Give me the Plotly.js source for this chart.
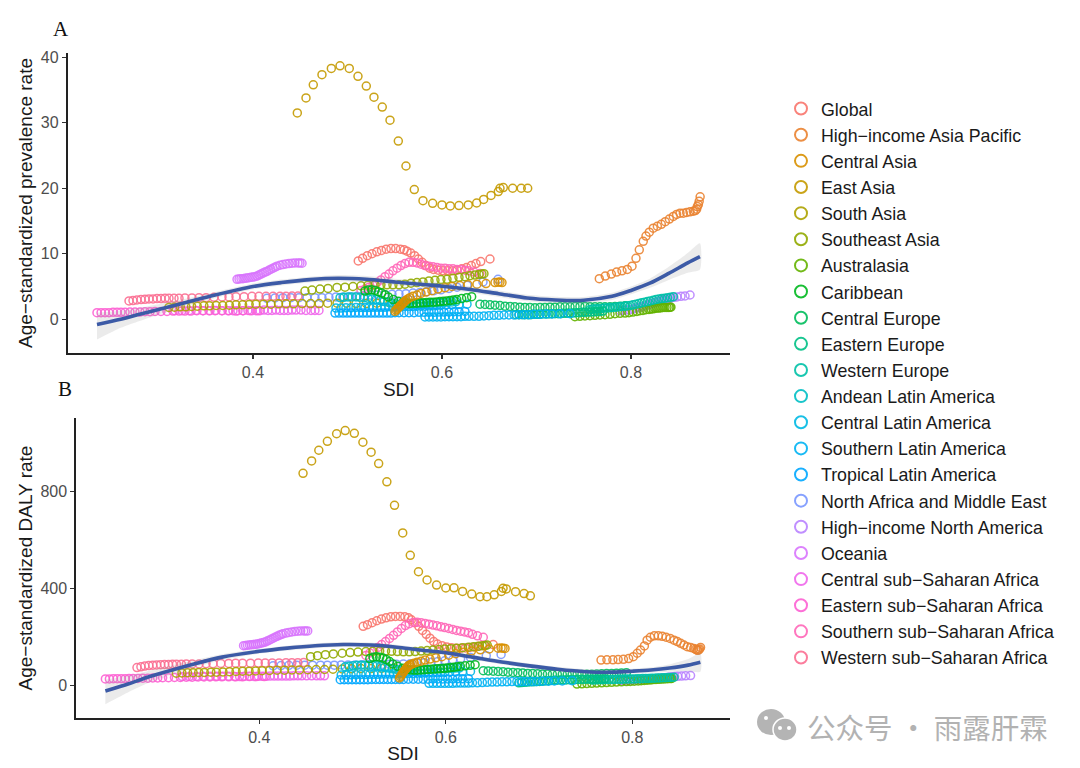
<!DOCTYPE html>
<html><head><meta charset="utf-8">
<script src="https://cdn.plot.ly/plotly-3.0.1.min.js"></script>
<style>html,body{margin:0;padding:0;background:#fff}#chart{width:1080px;height:768px}</style>
</head><body><div id="chart"></div>
<script>
const names = ["Global","High\u2212income Asia Pacific","Central Asia","East Asia","South Asia","Southeast Asia","Australasia","Caribbean","Central Europe","Eastern Europe","Western Europe","Andean Latin America","Central Latin America","Southern Latin America","Tropical Latin America","North Africa and Middle East","High\u2212income North America","Oceania","Central sub\u2212Saharan Africa","Eastern sub\u2212Saharan Africa","Southern sub\u2212Saharan Africa","Western sub\u2212Saharan Africa"];
const colors = ["#F8766D","#EA8331","#D89000","#C49A00","#ADA200","#91AA00","#64B200","#00B81F","#00BD5C","#00C085","#00C1A7","#00BFC4","#00B9E3","#00B2F3","#00A7FF","#7997FF","#B983FF","#D874FD","#EF67EB","#FD61D3","#FF67B8","#FB6F92"];

const xGlobal=[.5114,.516,.521,.526,.531,.536,.541,.546,.551,.556,.560,.563,.567,.571,.575,.579,.583,.587,.591,.596,.601,.606,.611,.616,.621,.626,.631,.636,.641,.6508];
const aGlobal=[8.9,9.3,9.7,10.0,10.3,10.5,10.7,10.8,10.8,10.7,10.6,10.4,10.1,9.7,9.2,8.7,8.2,7.8,7.6,7.5,7.4,7.4,7.4,7.5,7.7,7.9,8.2,8.5,8.8,9.2];
const bGlobal=[245,252,260,268,275,280,284,286,286,284,280,272,260,245,228,212,196,182,172,165,160,157,155,155,156,158,160,163,166,170];

const xHIAP=[.7665,.7728,.7792,.7848,.7905,.7961,.8011,.8053,.8088,.8130,.8159,.8194,.8236,.8279,.8321,.8363,.8406,.8448,.8483,.8519,.8554,.8589,.8625,.8660,.8681,.8695,.8702,.8713,.8722,.8732];
const aHIAP=[6.2,6.6,6.9,7.2,7.4,7.6,8.1,9.3,10.6,11.9,12.7,13.3,13.9,14.2,14.5,14.9,15.3,15.7,16,16.2,16.2,16.3,16.4,16.5,16.6,16.8,17.2,17.5,18.0,18.7];
const bHIAP=[106,107,107,108,109,112,120,134,147,164,188,200,206,206,204,200,195,188,182,175,168,161,158,154,150,147,146,148,152,158];

const xCentralAsia=[.5503,.5513,.5524,.5534,.5545,.5556,.5566,.5577,.5587,.5598,.5608,.5619,.5640,.5661,.5693,.5735,.5778,.5831,.5894,.5958,.6032,.6106,.6190,.6275,.6370,.6466,.6561,.6593,.6614,.6635];
const aCentralAsia=[1.2,1.4,1.55,1.7,1.85,2.0,2.15,2.3,2.45,2.6,2.75,2.9,3.1,3.3,3.5,3.7,3.95,4.15,4.35,4.6,4.8,5.0,5.15,5.25,5.35,5.45,5.6,5.65,5.7,5.6];
const bCentralAsia=[32,38,44,50,56,62,67,72,77,81,84,87,90,93,97,101,106,110,115,120,126,132,138,143,148,152,155,156,155,154];

const xEastAsia=[.4469,.4561,.4638,.4730,.4829,.4921,.5019,.5111,.5199,.5280,.5368,.5450,.5538,.5619,.5707,.5799,.5901,.6000,.6088,.6180,.6278,.6367,.6441,.6519,.6596,.6614,.6649,.6748,.6839,.6907];
const aEastAsia=[31.5,33.8,35.8,37.35,38.3,38.7,38.3,37.1,35.6,33.9,32.4,30.4,27.2,23.4,19.8,18.1,17.7,17.45,17.3,17.35,17.45,17.75,18.3,18.9,19.5,20,20.1,20,20,20];
const bEastAsia=[876,927,971,1008,1039,1052,1041,1004,963,916,841,744,630,538,470,436,415,403,404,389,378,367,367,375,389,402,399,388,380,371];

const xSouthAsia=[.311,.317,.323,.329,.335,.341,.348,.354,.361,.368,.375,.382,.389,.396,.403,.411,.419,.427,.435,.443,.452,.461,.470,.479,.489,.499,.509,.520,.531,.545];
const aSouthAsia=[1.8,1.85,1.9,1.9,1.95,2.0,2.05,2.05,2.1,2.1,2.15,2.2,2.2,2.25,2.3,2.3,2.3,2.35,2.35,2.35,2.4,2.4,2.4,2.45,2.45,2.45,2.4,2.4,2.45,2.5];
const bSouthAsia=[52,53,54,54,55,55,56,56,57,58,59,60,60,61,62,63,64,64,65,65,66,67,67,68,69,70,71,71,72,72];

const xSEAsia=[.455,.4624,.4709,.4794,.4889,.4974,.5058,.5143,.5217,.5291,.5354,.5418,.5481,.5545,.5608,.5672,.5735,.5799,.5862,.5926,.5989,.6053,.6116,.6180,.6243,.6296,.6349,.6392,.6423,.6444];
const aSEAsia=[4.3,4.45,4.6,4.7,4.85,4.9,5.0,5.1,5.2,5.25,5.25,5.25,5.25,5.25,5.35,5.5,5.6,5.7,5.85,5.95,6.05,6.1,6.25,6.4,6.5,6.65,6.75,6.85,6.9,6.95];
const bSEAsia=[120,124,128,131,134,137,139,141,142,143,143,142,141,140,140,141,143,145,147,149,151,153,155,157,159,161,163,165,166,168];

const xAustralasia=[.7407,.7460,.7513,.7566,.7619,.7672,.7725,.7778,.7831,.7884,.7937,.7979,.8021,.8063,.8095,.8127,.8159,.8190,.8212,.8233,.8254,.8275,.8296,.8317,.8339,.8360,.8381,.8402,.8413,.8423];
const aAustralasia=[.4,.45,.5,.55,.6,.65,.7,.75,.85,.9,.95,1.0,1.1,1.2,1.3,1.35,1.45,1.5,1.55,1.6,1.65,1.7,1.7,1.75,1.8,1.8,1.8,1.8,1.85,1.85];
const bAustralasia=[7,8,9,10,11,12,13,14,15,16,17,18,19,20,21,22,23,24,25,26,26,27,27,28,28,29,29,30,30,30];

const xCaribbean=[.5185,.5220,.5256,.5291,.5326,.5362,.5397,.5432,.5485,.5538,.5590,.5626,.5661,.5696,.5732,.5767,.5802,.5838,.5873,.5908,.5944,.5979,.6014,.6050,.6085,.6120,.6156,.6208,.6261,.6314];
const aCaribbean=[4.3,4.45,4.5,4.4,4.2,4.0,3.75,3.4,3.0,2.75,2.6,2.5,2.4,2.45,2.45,2.5,2.5,2.55,2.6,2.6,2.65,2.7,2.75,2.8,2.85,2.95,3.0,3.15,3.3,3.45];
const bCaribbean=[112,118,120,118,114,108,100,90,80,72,67,65,64,64,65,66,67,68,69,70,71,72,73,75,76,78,80,82,84,87];

const xCentralEurope=[.6402,.6455,.6508,.6561,.6614,.6667,.6720,.6772,.6825,.6878,.6931,.6984,.7037,.7090,.7143,.7196,.7249,.7302,.7355,.7408,.7460,.7513,.7566,.7619,.7672,.7725,.7778,.7831,.7884,.7937];
const aCentralEurope=[2.3,2.25,2.2,2.15,2.1,2.0,1.95,1.9,1.85,1.8,1.8,1.75,1.8,1.8,1.85,1.85,1.9,1.9,1.9,1.95,1.95,1.95,1.9,1.9,1.9,1.9,1.9,1.95,2.0,2.05];
const bCentralEurope=[62,61,60,59,58,56,55,54,53,51,50,49,48,48,47,47,47,46,46,46,46,47,47,48,49,50,51,52,53,54];

const xEasternEurope=[.6783,.6815,.6847,.6878,.6910,.6942,.6974,.7005,.7037,.7069,.7101,.7132,.7164,.7196,.7228,.7259,.7291,.7323,.7355,.7386,.7418,.7450,.7482,.7513,.7545,.7577,.7609,.7640,.7672,.7704];
const aEasternEurope=[.7,.7,.7,.7,.7,.7,.75,.75,.75,.8,.8,.8,.85,.85,.85,.85,.9,.9,.95,.95,1.0,1.0,1.05,1.05,1.1,1.1,1.15,1.15,1.2,1.25];
const bEasternEurope=[12,13,14,15,16,16,17,18,19,20,21,22,23,23,24,24,24,25,25,25,26,26,26,27,27,27,28,28,28,29];

const xWesternEurope=[.7566,.7596,.7627,.7657,.7688,.7718,.7748,.7779,.7809,.7840,.7870,.7900,.7931,.7961,.7992,.8022,.8052,.8083,.8113,.8144,.8174,.8204,.8235,.8265,.8296,.8326,.8356,.8387,.8417,.8448];
const aWesternEurope=[1.5,1.55,1.6,1.6,1.65,1.7,1.75,1.75,1.8,1.85,1.9,1.95,2.0,2.05,2.1,2.2,2.3,2.4,2.5,2.6,2.7,2.8,2.9,3.0,3.1,3.15,3.2,3.3,3.35,3.45];
const bWesternEurope=[24,24,25,25,25,26,26,26,26,27,27,27,28,28,28,28,29,29,30,30,30,31,31,32,32,33,33,34,34,35];

const xAndean=[.4921,.4963,.5005,.5048,.5090,.5132,.5175,.5217,.5259,.5302,.5344,.5386,.5429,.5471,.5513,.5556,.5598,.5640,.5683,.5725,.5767,.5810,.5852,.5894,.5937,.5979,.6021,.6063,.6106,.6148];
const aAndean=[3.3,3.35,3.4,3.4,3.4,3.35,3.3,3.2,3.1,3.0,2.85,2.7,2.6,2.45,2.35,2.3,2.3,2.3,2.3,2.35,2.35,2.4,2.4,2.45,2.5,2.5,2.55,2.6,2.65,2.7];
const bAndean=[78,80,82,84,85,85,85,84,82,80,76,73,70,67,65,64,64,64,64,65,65,66,67,68,69,70,71,72,73,74];

const xCentralLA=[.4878,.4931,.4984,.5037,.5090,.5143,.5185,.5228,.5270,.5312,.5354,.5397,.5439,.5481,.5524,.5566,.5608,.5651,.5693,.5735,.5778,.5820,.5862,.5905,.5947,.5989,.6042,.6106,.6180,.6265];
const aCentralLA=[1.7,1.7,1.75,1.75,1.8,1.8,1.8,1.8,1.85,1.85,1.85,1.85,1.9,1.9,1.9,1.9,1.95,1.95,1.95,2.0,2.0,2.0,2.05,2.05,2.1,2.1,2.15,2.2,2.25,2.3];
const bCentralLA=[44,44,45,45,46,46,47,47,47,48,48,48,49,49,50,50,51,51,52,52,53,53,54,54,55,55,56,57,58,59];

const xSouthernLA=[.5820,.5862,.5905,.5947,.5989,.6032,.6074,.6116,.6159,.6201,.6243,.6286,.6339,.6392,.6444,.6497,.6550,.6603,.6656,.6709,.6762,.6815,.6868,.6921,.6974,.7037,.7101,.7164,.7249,.7355];
const aSouthernLA=[.35,.35,.35,.35,.35,.4,.4,.4,.4,.4,.45,.45,.45,.45,.5,.55,.6,.6,.65,.65,.65,.7,.7,.7,.75,.75,.8,.8,.85,.85];
const bSouthernLA=[10,10,10,10,10,10,10,11,11,11,11,12,12,13,14,15,15,16,16,17,17,17,18,18,18,19,19,20,20,21];

const xTropicalLA=[.4868,.4910,.4953,.4995,.5037,.5079,.5122,.5164,.5206,.5249,.5291,.5333,.5376,.5418,.5460,.5503,.5545,.5598,.5651,.5704,.5757,.5810,.5862,.5915,.5968,.6021,.6074,.6127,.6180,.6243];
const aTropicalLA=[.95,.95,.95,.95,.95,.95,.95,.95,.95,.95,.95,.95,.95,.95,.95,1.0,1.0,1.0,1.0,1.0,1.05,1.05,1.05,1.05,1.1,1.1,1.1,1.15,1.15,1.2];
const bTropicalLA=[25,25,25,25,25,25,25,25,26,26,26,26,26,26,26,26,26,27,27,27,27,27,28,28,28,28,28,29,29,29];

const xNAME=[.4148,.4233,.4317,.4402,.4487,.4571,.4656,.4730,.4804,.4878,.4952,.5026,.5101,.5175,.5249,.5323,.5397,.5471,.5545,.5619,.5693,.5767,.5841,.5915,.5989,.6074,.6159,.6265,.6434,.6593];
const aNAME=[3.2,3.25,3.3,3.3,3.3,3.3,3.3,3.3,3.35,3.4,3.4,3.45,3.5,3.6,3.65,3.7,3.75,3.8,3.85,3.9,4.0,4.1,4.2,4.35,4.5,4.7,4.9,5.2,5.7,6.1];
const bNAME=[82,83,84,85,85,85,85,85,85,86,86,86,87,87,88,88,89,89,90,91,93,95,97,100,103,107,111,116,124,129];

const xHINA=[.7884,.7916,.7947,.7979,.8011,.8032,.8053,.8074,.8095,.8116,.8138,.8159,.8180,.8201,.8222,.8243,.8265,.8286,.8307,.8328,.8349,.8370,.8392,.8413,.8434,.8455,.8487,.8529,.8572,.8625];
const aHINA=[1.3,1.35,1.4,1.45,1.5,1.6,1.7,1.75,1.85,1.9,2.0,2.1,2.2,2.3,2.4,2.5,2.6,2.7,2.8,2.9,3.0,3.1,3.15,3.2,3.3,3.35,3.4,3.5,3.55,3.7];
const bHINA=[22,22,23,23,24,24,25,25,26,26,27,27,28,28,29,29,30,31,31,32,33,34,35,36,37,38,39,40,41,42];

const xOceania=[.3831,.3852,.3873,.3894,.3915,.3937,.3958,.3979,.4000,.4021,.4042,.4063,.4085,.4106,.4127,.4148,.4169,.4190,.4212,.4233,.4254,.4286,.4317,.4349,.4381,.4413,.4444,.4476,.4497,.4519];
const aOceania=[6.1,6.15,6.2,6.2,6.25,6.3,6.35,6.4,6.45,6.5,6.6,6.75,6.9,7.05,7.2,7.3,7.5,7.65,7.8,7.95,8.1,8.25,8.35,8.45,8.5,8.55,8.6,8.6,8.6,8.55];
const bOceania=[165,166,167,168,169,170,171,172,174,176,178,180,184,188,192,196,200,204,208,211,214,217,220,222,224,225,226,226,226,226];

const xCSSA=[.3175,.3249,.3323,.3397,.3471,.3545,.3608,.3672,.3735,.3788,.3841,.3894,.3947,.3989,.4032,.4074,.4116,.4159,.4201,.4243,.4286,.4328,.4370,.4413,.4455,.4508,.4561,.4614,.4656,.4698];
const aCSSA=[1.3,1.3,1.3,1.35,1.3,1.3,1.35,1.3,1.3,1.3,1.3,1.3,1.35,1.3,1.3,1.3,1.4,1.35,1.35,1.4,1.35,1.35,1.35,1.4,1.4,1.4,1.35,1.35,1.35,1.35];
const bCSSA=[38,38,38,39,39,39,39,39,38,38,39,39,38,39,39,39,40,40,40,40,40,40,41,41,41,41,41,41,41,41];

const xESSA=[.2349,.2392,.2434,.2476,.2519,.2561,.2603,.2646,.2698,.2751,.2804,.2857,.2910,.2963,.3026,.3090,.3153,.3217,.3280,.3344,.3407,.3471,.3534,.3598,.3672,.3746,.3820,.3894,.3968,.4053];
const aESSA=[1.0,1.0,1.0,1.0,1.05,1.05,1.05,1.05,1.1,1.1,1.1,1.15,1.15,1.2,1.2,1.2,1.25,1.25,1.25,1.25,1.3,1.3,1.3,1.3,1.3,1.3,1.25,1.3,1.3,1.3];
const bESSA=[28,28,29,29,29,29,30,30,30,31,31,32,32,33,33,34,34,35,35,36,36,36,37,37,37,37,37,38,38,38];

const xSSSA=[.5143,.5185,.5228,.5270,.5312,.5354,.5397,.5439,.5481,.5524,.5566,.5608,.5651,.5693,.5735,.5778,.5820,.5862,.5905,.5947,.5989,.6032,.6074,.6116,.6159,.6201,.6243,.6286,.6339,.6402];
const aSSSA=[4.4,4.6,4.9,5.2,5.6,6.0,6.5,6.9,7.4,7.8,8.2,8.5,8.7,8.7,8.6,8.4,8.2,8.1,8.0,7.9,7.8,7.8,7.7,7.7,7.6,7.6,7.5,7.4,7.2,7.0];
const bSSSA=[125,135,147,158,170,182,195,208,222,236,248,256,261,262,260,257,254,250,247,243,240,236,232,228,225,222,218,212,206,200];

const xWSSA=[.2688,.2730,.2772,.2815,.2857,.2899,.2942,.2984,.3026,.3069,.3111,.3164,.3217,.3280,.3354,.3429,.3503,.3587,.3672,.3746,.3820,.3905,.3989,.4063,.4138,.4212,.4286,.4349,.4413,.4476];
const aWSSA=[2.8,2.85,2.95,3.0,3.05,3.1,3.1,3.15,3.15,3.2,3.2,3.2,3.2,3.25,3.25,3.3,3.3,3.35,3.4,3.4,3.45,3.45,3.5,3.5,3.5,3.5,3.5,3.5,3.55,3.55];
const bWSSA=[75,78,81,83,85,86,87,88,88,89,89,89,90,90,90,91,91,92,92,93,93,93,94,94,94,94,95,95,95,96];

const smoothX=[.2349,.26,.28,.30,.33,.36,.40,.43,.46,.49,.52,.55,.58,.60,.63,.66,.69,.72,.75,.78,.80,.82,.84,.86,.873];
const smoothA=[-0.8,0.0,0.75,1.5,2.6,3.7,5.0,5.6,6.05,6.25,6.1,5.7,5.3,5.05,4.55,3.9,3.25,2.95,2.9,3.5,4.4,5.5,7.0,8.6,9.55];
const upperA=[1.0,1.3,1.75,2.3,3.15,4.15,5.45,6.05,6.5,6.75,6.6,6.2,5.8,5.55,5.05,4.4,3.75,3.45,3.4,4.05,5.0,6.2,8.0,10.1,11.6];
const lowerA=[-3.1,-1.3,-0.25,0.7,2.05,3.25,4.55,5.15,5.6,5.75,5.6,5.2,4.8,4.55,4.05,3.4,2.75,2.45,2.4,2.95,3.8,4.8,6.0,7.1,7.6];
const smoothB=[-22,8,35,58,90,118,142,155,165,170,168,158,144,136,117,98,82,68,58,56,60,65,73,85,97];
const upperB=[25,42,60,78,105,130,152,165,175,180,178,168,154,146,127,108,92,78,68,66,70,76,88,110,135];
const lowerB=[-76,-26,10,38,75,106,132,145,155,160,158,148,134,126,107,88,72,58,48,46,50,54,58,60,58];

const seriesX=[xGlobal,xHIAP,xCentralAsia,xEastAsia,xSouthAsia,xSEAsia,xAustralasia,xCaribbean,xCentralEurope,xEasternEurope,xWesternEurope,xAndean,xCentralLA,xSouthernLA,xTropicalLA,xNAME,xHINA,xOceania,xCSSA,xESSA,xSSSA,xWSSA];
const seriesA=[aGlobal,aHIAP,aCentralAsia,aEastAsia,aSouthAsia,aSEAsia,aAustralasia,aCaribbean,aCentralEurope,aEasternEurope,aWesternEurope,aAndean,aCentralLA,aSouthernLA,aTropicalLA,aNAME,aHINA,aOceania,aCSSA,aESSA,aSSSA,aWSSA];
const seriesB=[bGlobal,bHIAP,bCentralAsia,bEastAsia,bSouthAsia,bSEAsia,bAustralasia,bCaribbean,bCentralEurope,bEasternEurope,bWesternEurope,bAndean,bCentralLA,bSouthernLA,bTropicalLA,bNAME,bHINA,bOceania,bCSSA,bESSA,bSSSA,bWSSA];
// drawing order (first = underneath); Central Asia and the Caribbean sit on top in the reference
const drawOrder=[16,15,0,1,3,20,21,18,19,17,4,5,6,8,10,9,11,12,14,13,7,2];

const W=1080,H=768;
const px=v=>v/W, py=v=>1-v/H;
const sans="Liberation Sans, Arial, sans-serif";
const traces=[];
function addPanel(series,xa,ya,legend){
  drawOrder.forEach(i=>{
    traces.push({type:"scatter",mode:"markers",x:seriesX[i],y:series[i],xaxis:xa,yaxis:ya,name:names[i],
      legendgroup:"g"+i,legendrank:i+1,showlegend:legend,hoverinfo:"skip",cliponaxis:false,
      marker:{symbol:"circle-open",size:8,color:colors[i],opacity:.9,line:{width:1.5,color:colors[i]}}});
  });
}
addPanel(seriesA,"x","y",true);
addPanel(seriesB,"x2","y2",false);
function addSmooth(center,upper,lower,xa,ya){
  traces.push({type:"scatter",mode:"lines",x:smoothX.concat(smoothX.slice().reverse()),y:upper.concat(lower.slice().reverse()),
    xaxis:xa,yaxis:ya,fill:"toself",fillcolor:"rgba(153,153,153,0.2)",line:{width:0,shape:"spline",smoothing:.6},showlegend:false,hoverinfo:"skip"});
  traces.push({type:"scatter",mode:"lines",x:smoothX,y:center,xaxis:xa,yaxis:ya,showlegend:false,hoverinfo:"skip",
    line:{color:"#3C5AA6",width:3.6,shape:"spline",smoothing:.8}});
}
addSmooth(smoothA,upperA,lowerA,"x","y");
addSmooth(smoothB,upperB,lowerB,"x2","y2");

const xAxisBase={showgrid:false,zeroline:false,showline:true,linecolor:"#222",linewidth:1.7,ticks:"outside",ticklen:4,tickwidth:1.2,tickcolor:"#333",
  tickvals:[.4,.6,.8],ticktext:["0.4","0.6","0.8"],tickfont:{family:sans,size:16,color:"#4D4D4D"}};
const yAxisBase={showgrid:false,zeroline:false,showline:true,linecolor:"#222",linewidth:1.7,ticks:"outside",ticklen:4,tickwidth:1.2,tickcolor:"#333",
  tickfont:{family:sans,size:16,color:"#4D4D4D"}};
const titleFont={family:sans,size:19,color:"#1a1a1a"};

const layout={width:W,height:H,margin:{l:0,r:0,t:0,b:0},paper_bgcolor:"#fff",plot_bgcolor:"#fff",
  xaxis:{...xAxisBase,domain:[px(67.5),px(730)],range:[.2037,.9048],anchor:"y",title:{text:"SDI",font:titleFont,standoff:2}},
  yaxis:{...yAxisBase,domain:[py(353.3),py(52.7)],range:[-5.2,40.7],anchor:"x",tickvals:[0,10,20,30,40],ticktext:["0","10","20","30","40"],
    title:{text:"Age\u2212standardized prevalence rate",font:titleFont,standoff:3}},
  xaxis2:{...xAxisBase,domain:[px(76),px(730)],range:[.2034,.9048],anchor:"y2",title:{text:"SDI",font:titleFont,standoff:2}},
  yaxis2:{...yAxisBase,domain:[py(718),py(418)],range:[-133,1104],anchor:"x2",tickvals:[0,400,800],ticktext:["0","400","800"],
    title:{text:"Age\u2212standardized DALY rate",font:titleFont,standoff:3}},
  showlegend:true,
  legend:{x:px(781),y:py(90.5),xanchor:"left",yanchor:"top",traceorder:"grouped",tracegroupgap:0,itemsizing:"constant",itemclick:false,itemdoubleclick:false,
    font:{family:sans,size:17.8,color:"#1a1a1a"},bgcolor:"rgba(0,0,0,0)",borderwidth:0},
  annotations:[
    {text:"A",xref:"paper",yref:"paper",x:px(61),y:py(29),xanchor:"center",yanchor:"middle",showarrow:false,font:{family:"Liberation Serif, serif",size:21,color:"#111"}},
    {text:"B",xref:"paper",yref:"paper",x:px(65),y:py(389),xanchor:"center",yanchor:"middle",showarrow:false,font:{family:"Liberation Serif, serif",size:21,color:"#111"}},
    {text:"公众号 · 雨露肝霖",xref:"paper",yref:"paper",x:px(927.5),y:py(726),xanchor:"center",yanchor:"middle",showarrow:false,font:{family:"Noto Sans CJK SC, sans-serif",size:28.5,color:"#b2b2b2"}}
  ],
  shapes:[
    {type:"circle",xref:"paper",yref:"paper",x0:px(757),x1:px(785),y0:py(709),y1:py(735),fillcolor:"#b4b4b4",line:{width:0},layer:"above"},
    {type:"circle",xref:"paper",yref:"paper",x0:px(773),x1:px(797),y0:py(718),y1:py(741),fillcolor:"#b4b4b4",line:{width:1.5,color:"#fff"},layer:"above"},
    {type:"circle",xref:"paper",yref:"paper",x0:px(764),x1:px(768),y0:py(716),y1:py(720),fillcolor:"#fff",line:{width:0},layer:"above"},
    {type:"circle",xref:"paper",yref:"paper",x0:px(778),x1:px(782),y0:py(726),y1:py(730),fillcolor:"#fff",line:{width:0},layer:"above"},
    {type:"circle",xref:"paper",yref:"paper",x0:px(787),x1:px(791),y0:py(726),y1:py(730),fillcolor:"#fff",line:{width:0},layer:"above"}
  ]
};
Plotly.newPlot("chart",traces,layout,{displayModeBar:false,staticPlot:true});
</script></body></html>
